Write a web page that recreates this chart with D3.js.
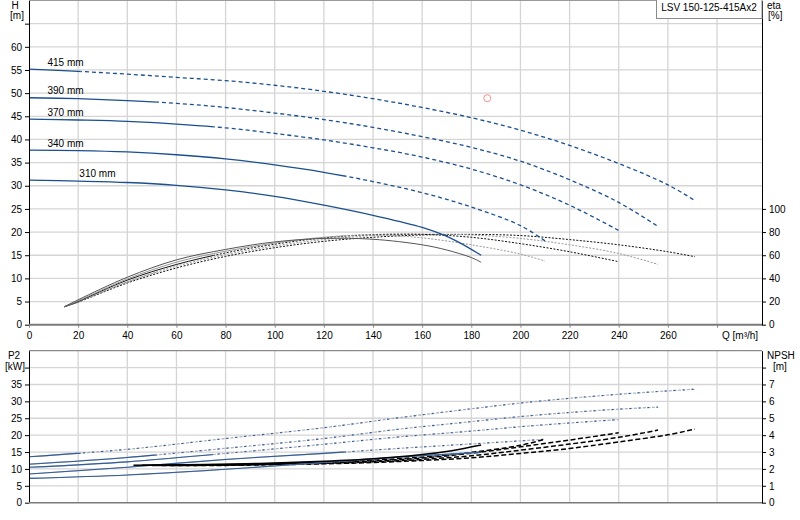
<!DOCTYPE html>
<html>
<head>
<meta charset="utf-8">
<script src="https://cdn.jsdelivr.net/npm/d3@7"></script>
<style>
  body { margin: 0; background: #fff; }
  svg text { font-family: "Liberation Sans", Arial, sans-serif; font-size: 10px; fill: #000; }
  .grid line { stroke: #d5d5d5; stroke-width: 1.3; }
</style>
</head>
<body>
<script>

// impeller diameters, largest first
var impellers = ["415 mm", "390 mm", "370 mm", "340 mm", "310 mm"];
// flow up to which each curve is drawn solid (dashed after that)
var solidEnd = [21, 52, 75, 129, 300];
var labelQ = [7.5, 7.5, 7.5, 7.5, 20.5];
var xTicks = [0, 20, 40, 60, 80, 100, 120, 140, 160, 180, 200, 220, 240, 260, 280];
var dutyPoint = [186.5, 48.9];

// head H [m] vs Q [m3/h]
var head415 = [[0,55.2],[20,54.7],[40,54.1],[60,53.4],[80,52.7],[100,51.7],[120,50.4],[140,48.8],[160,46.9],[180,44.7],[200,42.0],[220,38.7],[240,34.8],[260,30.2],[271,26.8]];
var head390 = [[0,49.0],[20,48.8],[40,48.4],[60,47.8],[80,46.9],[100,45.7],[120,44.3],[140,42.6],[160,40.6],[180,38.3],[200,35.3],[220,31.3],[240,26.4],[256,21.2]];
var head370 = [[0,44.4],[20,44.2],[40,43.9],[60,43.3],[80,42.5],[100,41.3],[120,39.9],[140,38.2],[160,36.2],[180,33.6],[200,30.2],[220,25.8],[240.5,20.2]];
var head340 = [[0,37.7],[20,37.6],[40,37.3],[60,36.7],[80,35.8],[100,34.5],[120,32.9],[140,30.9],[160,28.5],[180,25.4],[200,21.4],[210.5,17.9]];
var head310 = [[0,31.2],[20,31.0],[40,30.7],[60,30.1],[80,29.1],[100,27.7],[120,25.8],[140,23.6],[160,21.0],[172,18.6],[184,15.0]];

// efficiency eta [%]
var eta415 = [[14.4,15.5],[20,19.5],[40,36],[60,49],[80,59],[100,66.5],[120,72],[140,75.5],[160,77.5],[180,78],[200,77],[220,73.5],[240,69],[260,63],[271,58.7]];
var eta390 = [[14.4,15.5],[20,19.8],[40,37],[60,50.5],[80,60.5],[100,68],[120,73.5],[140,77],[160,78.2],[180,77.5],[200,74.5],[220,69],[240,61.5],[256,52.1]];
var eta370 = [[14.4,15.5],[20,20.2],[40,38.5],[60,52],[80,62],[100,69.5],[120,75],[140,77.8],[160,78],[180,75.5],[200,70],[220,63],[240,54.4]];
var eta340 = [[14.4,15.5],[20,20.6],[40,39.5],[60,54],[80,63.5],[100,70.5],[120,75.5],[140,77.5],[160,75],[180,69],[200,61],[210,55]];
var eta310 = [[14.4,15.5],[20,21.5],[40,41],[60,56],[80,65],[100,71.5],[120,74.5],[140,73.8],[160,69],[170,64.5],[180,58],[184,53.9]];

// shaft power P2 [kW]
var power415 = [[0,13.6],[40,15.8],[80,19.0],[120,22.2],[151,25.2],[180,27.8],[200,29.5],[220,30.9],[240,32.1],[260,33.1],[271,33.6]];
var power390 = [[0,11.4],[40,13.4],[80,16.1],[120,19.0],[151,21.8],[180,24.0],[200,25.5],[220,26.7],[240,27.7],[256,28.3]];
var power370 = [[0,10.5],[40,12.1],[80,14.6],[120,17.3],[151,19.5],[180,21.2],[200,22.5],[220,23.6],[240,24.6]];
var power340 = [[0,8.5],[40,10.5],[80,12.8],[120,14.6],[151,16.1],[180,17.4],[200,18.3],[210,18.8]];
var power310 = [[0,7.2],[40,8.2],[80,9.9],[120,11.9],[153,13.6],[184,14.9]];

// NPSH [m]
var npsh415 = [[58,2.2],[80,2.21],[100,2.25],[120,2.3],[140,2.38],[160,2.5],[180,2.66],[200,2.92],[220,3.21],[240,3.6],[260,4.02],[271,4.36]];
var npsh390 = [[54,2.2],[80,2.22],[100,2.27],[120,2.33],[140,2.42],[160,2.56],[180,2.78],[200,3.11],[220,3.47],[240,3.87],[256,4.3]];
var npsh370 = [[50,2.21],[80,2.24],[100,2.29],[120,2.36],[140,2.47],[160,2.64],[180,2.93],[200,3.31],[220,3.71],[240,4.14]];
var npsh340 = [[46,2.22],[80,2.26],[100,2.32],[120,2.41],[140,2.53],[160,2.7],[180,2.98],[200,3.4],[210,3.76]];
var npsh310 = [[42.5,2.22],[80,2.28],[100,2.35],[120,2.45],[140,2.6],[160,2.85],[172,3.08],[184,3.41]];

var heads = [head415, head390, head370, head340, head310];
var etas = [eta415, eta390, eta370, eta340, eta310];
var powers = [power415, power390, power370, power340, power310];
var npshs = [npsh415, npsh390, npsh370, npsh340, npsh310];
var etaColors = ["#111", "#999", "#111", "#999", "#555"];

var blue = "#1b4f8f";

// scales
var x = d3.scaleLinear().domain([0, 298.3]).range([29, 762]);
var yH = d3.scaleLinear().domain([0, 70]).range([324.7, 0.5]);
var yEta = d3.scaleLinear().domain([0, 280]).range([324.7, 0.5]);
var yP = d3.scaleLinear().domain([0, 45]).range([502.7, 350.7]);
var yN = d3.scaleLinear().domain([0, 9]).range([502.7, 350.7]);

var svg = d3.select("body").append("svg")
    .attr("width", 800)
    .attr("height", 520);

// clip regions for the solid / dashed parts of each impeller
var defs = svg.append("defs");
impellers.forEach(function(name, i) {
  defs.append("clipPath").attr("id", "solid" + i).append("rect")
    .attr("x", 0).attr("y", 0).attr("width", x(solidEnd[i])).attr("height", 520);
  defs.append("clipPath").attr("id", "dash" + i).append("rect")
    .attr("x", x(solidEnd[i])).attr("y", 0).attr("width", 800).attr("height", 520);
});

/////////////////////////
// grid

var gridTop = svg.append("g").attr("class", "grid");
gridTop.selectAll(".v").data(xTicks.slice(1)).enter().append("line")
    .attr("x1", function(d) { return x(d); }).attr("x2", function(d) { return x(d); })
    .attr("y1", yH(70)).attr("y2", yH(0));
gridTop.selectAll(".h").data(d3.range(5, 70, 5)).enter().append("line")
    .attr("x1", x(0)).attr("x2", x.range()[1])
    .attr("y1", function(d) { return yH(d); }).attr("y2", function(d) { return yH(d); });

var gridBot = svg.append("g").attr("class", "grid");
gridBot.selectAll(".v").data(xTicks.slice(1)).enter().append("line")
    .attr("x1", function(d) { return x(d); }).attr("x2", function(d) { return x(d); })
    .attr("y1", yP(45)).attr("y2", yP(0));
gridBot.selectAll(".h").data(d3.range(5, 45, 5)).enter().append("line")
    .attr("x1", x(0)).attr("x2", x.range()[1])
    .attr("y1", function(d) { return yP(d); }).attr("y2", function(d) { return yP(d); });

// frame lines top/bottom
svg.append("line").attr("x1", x(0)).attr("x2", x.range()[1]).attr("y1", 0.5).attr("y2", 0.5)
    .attr("stroke", "#9a9a9a").attr("stroke-width", 1);
svg.append("line").attr("x1", x(0)).attr("x2", x.range()[1]).attr("y1", yP(45)).attr("y2", yP(45))
    .attr("stroke", "#8a8a8a").attr("stroke-width", 1.3);

/////////////////////////
// curves

function drawCurve(data, yScale, i, color, width, dash, opacity) {
  var line = d3.line()
      .curve(d3.curveCatmullRom.alpha(0.5))
      .x(function(d) { return x(d[0]); })
      .y(function(d) { return yScale(d[1]); });
  svg.append("path").datum(data)
      .attr("d", line)
      .attr("clip-path", "url(#solid" + i + ")")
      .attr("fill", "none").attr("stroke", color)
      .attr("stroke-width", width).attr("stroke-opacity", opacity || 1);
  svg.append("path").datum(data)
      .attr("d", line)
      .attr("clip-path", "url(#dash" + i + ")")
      .attr("fill", "none").attr("stroke", color)
      .attr("stroke-width", width).attr("stroke-opacity", opacity || 1)
      .attr("stroke-dasharray", dash);
}

impellers.forEach(function(name, i) {
  // efficiency
  drawCurve(etas[i], yEta, i, etaColors[i], 1, "2,1.5");
  // head
  drawCurve(heads[i], yH, i, blue, 1.3, "4,3");
  // power: grey base with blue overlay
  drawCurve(powers[i], yP, i, "#a8aebd", 1.2, "3,1.5");
  drawCurve(powers[i], yP, i, blue, 1.1, "2,7", 0.85);
  // npsh
  drawCurve(npshs[i], yN, i, "#000", 1.5, "5,2.5");
});

// curve labels
svg.selectAll(".imp").data(impellers).enter().append("text")
    .attr("class", "imp")
    .attr("x", function(d, i) { return x(labelQ[i]); })
    .attr("y", function(d, i) { return yH(heads[i][0][1]) - 3.5; })
    .text(function(d) { return d; });

// duty point
svg.append("circle")
    .attr("cx", x(dutyPoint[0])).attr("cy", yH(dutyPoint[1]))
    .attr("r", 3.5).attr("fill", "none")
    .attr("stroke", "#f09090").attr("stroke-width", 1);

/////////////////////////
// axes

function styleAxis(g) {
  g.selectAll("text").attr("font-size", null).attr("font-family", null);
  g.selectAll("line").attr("stroke", "#000");
  g.select(".domain").attr("stroke", "#000");
}

svg.append("g").attr("transform", "translate(" + x(0) + ",0)")
    .call(d3.axisLeft(yH).tickValues(d3.range(0, 66, 5)).tickSize(4).tickSizeOuter(0).tickPadding(3)
      .tickFormat(function(d) { return d <= 60 ? d : ""; }))
    .call(styleAxis);

svg.append("g").attr("transform", "translate(" + x.range()[1] + ",0)")
    .call(d3.axisRight(yEta).tickValues([0, 20, 40, 60, 80, 100]).tickSize(4).tickSizeOuter(0).tickPadding(3))
    .call(styleAxis);

var xAxis = svg.append("g").attr("transform", "translate(0," + yH(0) + ")")
    .call(d3.axisBottom(x).tickValues(xTicks).tickSize(3).tickPadding(4)
      .tickFormat(function(d) { return d <= 260 ? d : ""; }))
    .call(styleAxis);
xAxis.select(".domain").remove();
xAxis.selectAll("line").attr("stroke", "#888");

svg.append("line").attr("x1", x(0)).attr("x2", x.range()[1]).attr("y1", yH(0)).attr("y2", yH(0))
    .attr("stroke", "#7a7a7a").attr("stroke-width", 2);

svg.append("g").attr("transform", "translate(" + x(0) + ",0)")
    .call(d3.axisLeft(yP).tickValues(d3.range(0, 41, 5)).tickSize(4).tickSizeOuter(0).tickPadding(3)
      .tickFormat(function(d) { return d <= 35 ? d : ""; }))
    .call(styleAxis);

svg.append("g").attr("transform", "translate(" + x.range()[1] + ",0)")
    .call(d3.axisRight(yN).tickValues(d3.range(0, 9)).tickSize(4).tickSizeOuter(0).tickPadding(3)
      .tickFormat(function(d) { return d <= 7 ? d : ""; }))
    .call(styleAxis);

svg.append("line").attr("x1", x(0)).attr("x2", x.range()[1]).attr("y1", yP(0)).attr("y2", yP(0))
    .attr("stroke", "#7a7a7a").attr("stroke-width", 1.6);

// axis titles
svg.append("text").attr("x", 15).attr("y", 9).attr("text-anchor", "middle").text("H");
svg.append("text").attr("x", 17).attr("y", 19).attr("text-anchor", "middle").text("[m]");
svg.append("text").attr("x", 767).attr("y", 9).text("eta");
svg.append("text").attr("x", 768).attr("y", 19).text("[%]");
svg.append("text").attr("x", 722).attr("y", yH(0) + 14).text("Q [m³/h]");
svg.append("text").attr("x", 14).attr("y", 359).attr("text-anchor", "middle").text("P2");
svg.append("text").attr("x", 25).attr("y", 370).attr("text-anchor", "end").text("[kW]");
svg.append("text").attr("x", 767).attr("y", 359).text("NPSH");
svg.append("text").attr("x", 773).attr("y", 370).text("[m]");

// type box
svg.append("rect").attr("x", 656.5).attr("y", -1).attr("width", 105.5).attr("height", 19.5)
    .attr("fill", "#fff").attr("stroke", "#8a8a8a").attr("stroke-width", 1);
svg.append("text").attr("x", 709).attr("y", 11).attr("text-anchor", "middle").text("LSV 150-125-415Ax2");

</script>
</body>
</html>
